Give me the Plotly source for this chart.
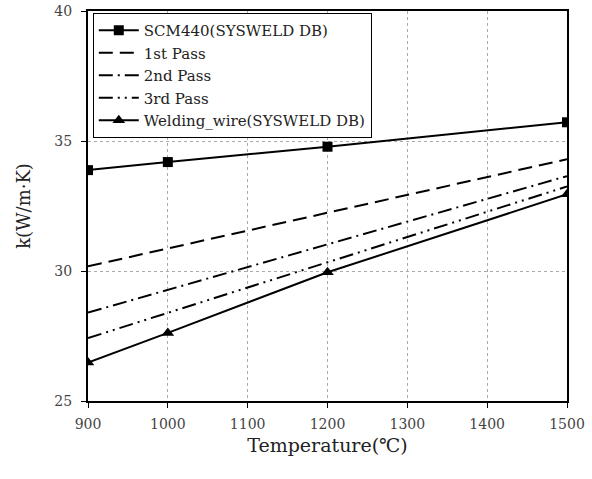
import plotly.graph_objects as go

temps_scm = [900, 1000, 1200, 1500]
k_scm = [33.88, 34.19, 34.78, 35.72]

temps_pass = [900, 1500]
k_pass1 = [30.18, 34.3]
k_pass2 = [28.4, 33.65]
k_pass3 = [27.42, 33.25]

temps_wire = [900, 1000, 1200, 1500]
k_wire = [26.48, 27.62, 29.95, 32.95]

names = ["SCM440(SYSWELD DB)", "1st Pass", "2nd Pass", "3rd Pass", "Welding_wire(SYSWELD DB)"]

font = "DejaVu Serif, serif"
fig = go.Figure()
fig.add_trace(go.Scatter(x=temps_scm, y=k_scm, name=names[0], mode="lines+markers",
                         line=dict(color="black", width=2),
                         marker=dict(symbol="square", size=10, color="black")))
fig.add_trace(go.Scatter(x=temps_pass, y=k_pass1, name=names[1], mode="lines",
                         line=dict(color="black", width=2, dash="14px,7px")))
fig.add_trace(go.Scatter(x=temps_pass, y=k_pass2, name=names[2], mode="lines",
                         line=dict(color="black", width=2, dash="14px,5px,2px,5px")))
fig.add_trace(go.Scatter(x=temps_pass, y=k_pass3, name=names[3], mode="lines",
                         line=dict(color="black", width=2, dash="14px,5px,2px,5px,2px,5px")))
fig.add_trace(go.Scatter(x=temps_wire, y=k_wire, name=names[4], mode="lines+markers",
                         line=dict(color="black", width=2),
                         marker=dict(symbol="triangle-up", size=11, color="black")))

fig.update_layout(
    width=592, height=479,
    margin=dict(l=88, r=25, t=11, b=78, autoexpand=False),
    paper_bgcolor="white", plot_bgcolor="white",
    font=dict(family=font, size=14, color="#444"),
    showlegend=True,
    legend=dict(x=0.01, y=0.995, xanchor="left", yanchor="top",
                bordercolor="black", borderwidth=1, bgcolor="white",
                font=dict(family=font, size=15, color="#222"),
                tracegroupgap=0, itemwidth=40),
    xaxis=dict(range=[900, 1500], tickvals=[900, 1000, 1100, 1200, 1300, 1400, 1500],
               showline=True, linecolor="black", linewidth=2, mirror=True,
               ticks="outside", ticklen=5, tickcolor="black", ticklabelstandoff=4,
               showgrid=True, gridcolor="#aaa", griddash="dot", gridwidth=1,
               zeroline=False, automargin=False,
               title=dict(text="Temperature(℃)", font=dict(size=19, color="#222"), standoff=8),
               tickfont=dict(size=14)),
    yaxis=dict(range=[25, 40], tickvals=[25, 30, 35, 40],
               showline=True, linecolor="black", linewidth=2, mirror=True,
               ticks="outside", ticklen=5, tickcolor="black", ticklabelstandoff=6,
               showgrid=True, gridcolor="#aaa", griddash="dot", gridwidth=1,
               zeroline=False, automargin=False,
               title=dict(text="k(W/m·K)", font=dict(size=18, color="#222"), standoff=19),
               tickfont=dict(size=14)),
)
fig.write_html("out.html")
